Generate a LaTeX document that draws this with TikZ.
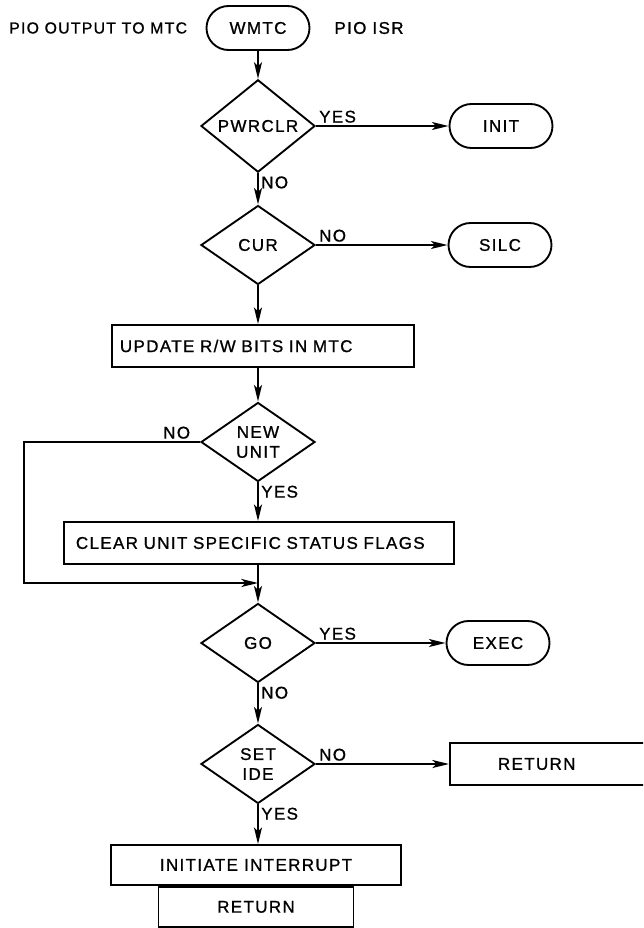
\documentclass[tikz,border=0pt]{standalone}
\usepackage{fontspec}
\setmainfont[LetterSpace=8,FakeBold=1]{Liberation Sans}
\usetikzlibrary{arrows.meta,positioning,shapes.geometric}
\newcommand{\chartfont}{\fontsize{14.5}{17}\selectfont}
\tikzset{
  wire/.style={black,line width=1.6pt},
  flow/.style={wire,-{Stealth[length=5mm,width=2.4mm,inset=1.2mm]}},
  terminal/.style={draw=black,line width=1.6pt,rounded corners=6.6mm,minimum width=30.9mm,
                   minimum height=13.2mm,inner sep=0pt,font=\chartfont},
  decision/.style={draw=black,line width=1.6pt,diamond,minimum width=34.2mm,minimum height=23.7mm,
                   inner sep=0pt,align=center,font=\chartfont},
  process/.style={draw=black,line width=1.6pt,minimum height=12.6mm,inner sep=0pt,font=\chartfont},
  lab/.style={font=\chartfont,inner sep=2pt},
}

\begin{document}
\begin{tikzpicture}[x=0.3mm,y=-0.3mm]
  \path[use as bounding box] (0,0) rectangle (643,928);
  \clip (0,0) rectangle (643,928);
  \node[lab,anchor=west,inner sep=0pt,font=\fontsize{13.5}{16}\selectfont] (entry) at (9,28) {PIO OUTPUT TO MTC};
  \node[terminal] (wmtc) at (258,28) {WMTC};
  \node[lab] (isr) at (369,28) {PIO ISR};

  \node[decision] (pwrclr) at (258,126) {PWRCLR};
  \node[terminal] (init) at (501,126) {INIT};
  \node[decision] (cur) at (258,245) {CUR};
  \node[terminal] (silc) at (500,245) {SILC};
  \node[process,anchor=west,text width=85.8mm,inner xsep=2.4mm,align=left] (update) at (111,346)
    {UPDATE R/W BITS IN MTC};
  \node[decision] (newunit) at (258,442) {NEW\\UNIT};
  \node[process,anchor=west,text width=109.8mm,inner xsep=3.6mm,align=left] (clear) at (63,543)
    {CLEAR UNIT SPECIFIC STATUS FLAGS};
  \coordinate (merge) at (258,583);
  \node[decision] (go) at (258,643) {GO};
  \node[terminal] (exec) at (498,643) {EXEC};
  \node[decision] (setide) at (258,764) {SET\\IDE};
  \node[process,anchor=west,text width=48mm,inner xsep=14.4mm,align=left] (skip) at (449,764) {RETURN};
  \node[process,minimum width=87mm,minimum height=12mm] (interrupt) at (256,865) {INITIATE INTERRUPT};
  \node[process,minimum width=58.5mm,minimum height=12mm,below=0pt of interrupt] (done) {RETURN};

  \draw[flow] (wmtc) -- (pwrclr);
  \draw[flow] (pwrclr) -- node[lab,pos=0,anchor=south west] {YES} (init);
  \draw[flow] (pwrclr) -- node[lab,pos=0,anchor=north west] {NO} (cur);
  \draw[flow] (cur) -- node[lab,pos=0,anchor=south west] {NO} (silc);
  \draw[flow] (cur) -- (cur |- update.north);
  \draw[flow] (newunit |- update.south) -- (newunit);
  \draw[flow] (newunit) -- node[lab,pos=0,anchor=north west] {YES} (newunit |- clear.north);
  \draw[wire] (clear.south -| merge) -- (merge);
  \draw[flow] (newunit.west) -- node[lab,pos=0,anchor=south east,xshift=-2mm] {NO} ++(-176,0) |- (merge);
  \draw[flow] (merge) -- (go);
  \draw[flow] (go) -- node[lab,pos=0,anchor=south west] {YES} (exec);
  \draw[flow] (go) -- node[lab,pos=0,anchor=north west] {NO} (setide);
  \draw[flow] (setide) -- node[lab,pos=0,anchor=south west] {NO} (skip);
  \draw[flow] (setide) -- node[lab,pos=0,anchor=north west] {YES} (setide |- interrupt.north);
\end{tikzpicture}
\end{document}
